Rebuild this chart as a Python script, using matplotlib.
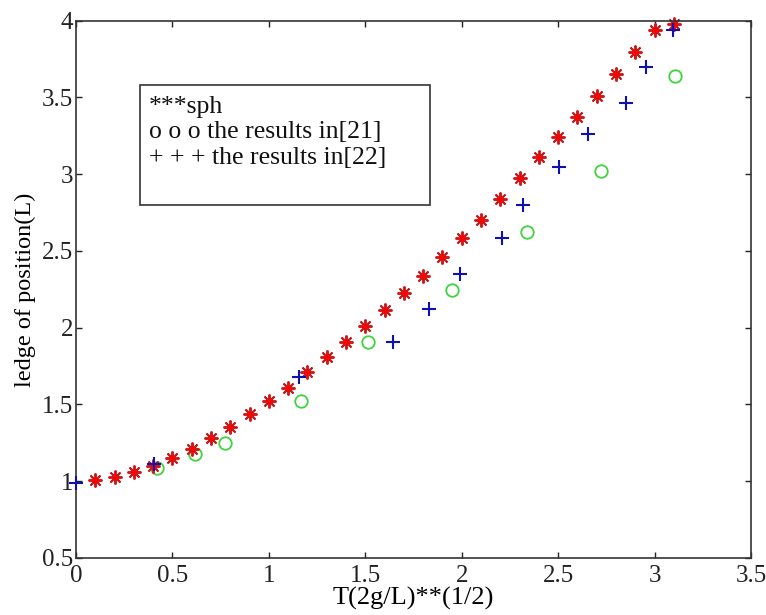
import matplotlib
matplotlib.use("Agg")
import matplotlib.pyplot as plt
from matplotlib.patches import Rectangle

plt.rcParams['font.family'] = ['Liberation Serif', 'DejaVu Serif']

# SPH results
sph_x = [0.1, 0.2, 0.3, 0.4, 0.5, 0.6, 0.7, 0.8, 0.9, 1.0, 1.1, 1.2, 1.3, 1.4,
         1.5, 1.6, 1.7, 1.8, 1.9, 2.0, 2.1, 2.2, 2.3, 2.4, 2.5, 2.6, 2.7, 2.8,
         2.9, 3.0, 3.1]
sph_y = [1.01, 1.03, 1.06, 1.10, 1.15, 1.21, 1.28, 1.355, 1.44, 1.52, 1.61,
         1.71, 1.81, 1.905, 2.01, 2.115, 2.225, 2.34, 2.46, 2.585, 2.705,
         2.84, 2.975, 3.11, 3.24, 3.375, 3.51, 3.65, 3.795, 3.94, 3.98]

# results in [21]
ref21_x = [0.42, 0.615, 0.775, 1.165, 1.515, 1.95, 2.34, 2.72, 3.105]
ref21_y = [1.085, 1.18, 1.25, 1.52, 1.91, 2.245, 2.625, 3.02, 3.64]

# results in [22]
ref22_x = [0.0, 0.405, 1.155, 1.645, 1.83, 1.99, 2.21, 2.32, 2.505, 2.655,
           2.85, 2.955, 3.095]
ref22_y = [0.99, 1.115, 1.68, 1.91, 2.12, 2.35, 2.585, 2.80, 3.045, 3.26,
           3.465, 3.70, 3.94]

legend_lines = ["***sph", "o o o the results in[21]", "+ + + the results in[22]"]

fig = plt.figure(figsize=(7.66, 6.15), dpi=100)
ax = fig.add_axes([0.0992, 0.0927, 0.8812, 0.8736])

ax.plot(ref21_x, ref21_y, linestyle='none', marker='o', markersize=9,
        markerfacecolor='none', markeredgecolor='#3fd43f', markeredgewidth=1.3)
ax.plot(ref22_x, ref22_y, linestyle='none', marker='+', markersize=10,
        color='#1010b0', markeredgewidth=1.5, clip_on=False, zorder=3)
ax.plot(sph_x, sph_y, linestyle='none', marker=(8, 2, 0), markersize=10,
        color='#d01818', markeredgewidth=1.4, clip_on=False)
ax.plot(sph_x, sph_y, linestyle='none', marker='o', markersize=3.5,
        color='#ff0000', markeredgewidth=0, clip_on=False)

ax.set_xlim(0, 3.5)
ax.set_ylim(0.5, 4)
ax.set_xticks([0, 0.5, 1, 1.5, 2, 2.5, 3, 3.5])
ax.set_xticklabels(['0', '0.5', '1', '1.5', '2', '2.5', '3', '3.5'])
ax.set_yticks([0.5, 1, 1.5, 2, 2.5, 3, 3.5, 4])
ax.set_yticklabels(['0.5', '1', '1.5', '2', '2.5', '3', '3.5', '4'])
ax.tick_params(direction='in', length=4, width=1, top=True, right=True,
               labelsize=18, colors='#222222')
ax.tick_params(axis='x', pad=5)
ax.tick_params(axis='y', pad=2)
for s in ax.spines.values():
    s.set_linewidth(1.2)
    s.set_color('#333333')

ax.set_xlabel('T(2g/L)**(1/2)', fontsize=19, labelpad=0)
ax.set_ylabel('ledge of position(L)', fontsize=17.5, labelpad=4)

ax.add_patch(Rectangle((0.095, 0.657), 0.429, 0.223, transform=ax.transAxes,
                       fill=False, edgecolor='#333333', linewidth=1.2))
for i, line in enumerate(legend_lines):
    ax.text(0.108, 0.840 - i * 0.048, line, transform=ax.transAxes,
            fontsize=18.5, va='center', ha='left', color='#111111')

fig.savefig('out.png', dpi=100)
